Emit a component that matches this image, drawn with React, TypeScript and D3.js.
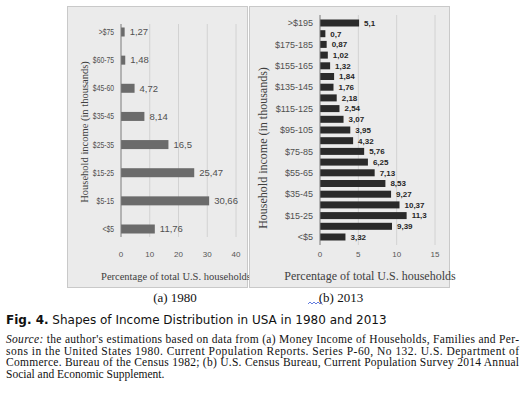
import * as d3 from "d3";

// ── Data ──────────────────────────────────────────────────────────────────────

const cats1980 = ["<$5", "$5-15", "$15-25", "$25-35", "$35-45", "$45-60", "$60-75", ">$75"];
const vals1980 = [11.76, 30.66, 25.47, 16.5, 8.14, 4.72, 1.48, 1.27];
const ticks1980 = [0, 10, 20, 30, 40];

const cats2013 = [
  "<$5", "$5-15", "$15-25", "$25-35", "$35-45", "$45-55", "$55-65", "$65-75",
  "$75-85", "$85-95", "$95-105", "$105-115", "$115-125", "$125-135", "$135-145",
  "$145-155", "$155-165", "$165-175", "$175-185", "$185-195", ">$195",
];
const vals2013 = [
  3.32, 9.39, 11.3, 10.37, 9.27, 8.53, 7.13, 6.25, 5.76, 4.32, 3.95, 3.07, 2.54,
  2.18, 1.76, 1.84, 1.32, 1.02, 0.87, 0.7, 5.1,
];
const ticks2013 = [0, 5, 10, 15];

const sourceLines = [
  "the author's estimations based on data from (a) Money Income of Households, Families and Per-",
  "sons in the United States 1980. Current Population Reports. Series P-60, No 132. U.S. Department of",
  "Commerce. Bureau of the Census 1982; (b) U.S. Census Bureau, Current Population Survey 2014 Annual",
  "Social and Economic Supplement.",
];

const W = 526;
const H = 393;
const SERIF = "'Liberation Serif', 'Times New Roman', serif";
const SANS = "'Liberation Sans', Arial, sans-serif";

interface PanelProps {
  box: { x: number; y: number; w: number; h: number };
  axisX: number;
  plotRight: number;
  plotTop: number;
  plotBottom: number;
  cats: string[];
  vals: number[];
  ticks: number[];
  barH: number;
  barColor: string;
  labelEvery: number;
  valueBold: boolean;
  valueSize: number;
  catSquash: number;
  catSize: number;
  titleSize: number;
  yTitleX: number;
  yTitleY: number;
  xTitleX: number;
  tickY: number;
  xTitleY: number;
}

function Panel(p: PanelProps) {
  const x = d3
    .scaleLinear()
    .domain([0, p.ticks[p.ticks.length - 1]])
    .range([p.axisX, p.plotRight]);
  const y = d3
    .scalePoint<string>()
    .domain(p.cats.slice().reverse())
    .range([p.plotTop, p.plotBottom]);
  const gridTop = p.plotTop - 8;
  const gridBottom = p.plotBottom + 8;

  return (
    <g>
      <rect x={p.box.x + 0.5} y={p.box.y + 0.5} width={p.box.w} height={p.box.h} fill="#ebebeb" stroke="#c9c9c9" />
      {p.ticks.slice(1).map((t) => (
        <line key={t} x1={x(t)} x2={x(t)} y1={gridTop} y2={gridBottom} stroke="#d2d2d2" strokeWidth={1} />
      ))}
      {p.cats.map((c, i) => {
        const cy = y(c)!;
        const v = p.vals[i];
        return (
          <g key={c}>
            <rect x={x(0)} y={cy - p.barH / 2} width={x(v) - x(0)} height={p.barH} fill={p.barColor} />
            <text
              x={x(v) + 5}
              y={cy + p.valueSize * 0.35}
              fontSize={p.valueSize}
              fontWeight={p.valueBold ? "bold" : "normal"}
              fill={p.valueBold ? "#262626" : "#505050"}
              fontFamily={SANS}
            >
              {v.toString().replace(".", ",")}
            </text>
            {i % p.labelEvery === 0 && (
              <text
                transform={`translate(${p.axisX - 7},${cy + p.catSize * 0.35}) scale(${p.catSquash},1)`}
                fontSize={p.catSize}
                textAnchor="end"
                fill="#505050"
                fontFamily={SANS}
              >
                {c}
              </text>
            )}
          </g>
        );
      })}
      <line x1={p.axisX} x2={p.axisX} y1={gridTop} y2={gridBottom} stroke="#7a7a7a" strokeWidth={1} />
      {p.ticks.map((t) => (
        <text key={t} x={x(t)} y={p.tickY} fontSize={8} textAnchor="middle" fill="#555" fontFamily={SANS}>
          {t}
        </text>
      ))}
      <text x={p.xTitleX} y={p.xTitleY} fontSize={p.titleSize} textAnchor="middle" fill="#404040" fontFamily={SERIF}>
        Percentage of total U.S. households
      </text>
      <text
        transform={`translate(${p.yTitleX},${p.yTitleY}) rotate(-90)`}
        fontSize={p.titleSize}
        textAnchor="middle"
        fill="#404040"
        fontFamily={SERIF}
      >
        Household income (in thousands)
      </text>
    </g>
  );
}

export default function App() {
  return (
    <svg
      width={W}
      height={H}
      style={{ position: "absolute", left: 0, top: 0, background: "#fff" }}
    >
      <Panel
        box={{ x: 67, y: 6, w: 180, h: 281 }}
        axisX={121}
        plotRight={236}
        plotTop={32}
        plotBottom={229}
        cats={cats1980}
        vals={vals1980}
        ticks={ticks1980}
        barH={9}
        barColor="#6b6b6b"
        labelEvery={1}
        valueBold={false}
        valueSize={9.5}
        catSquash={0.8}
        catSize={8.5}
        titleSize={10.5}
        yTitleX={88}
        yTitleY={132}
        xTitleX={176}
        tickY={257}
        xTitleY={280}
      />
      <Panel
        box={{ x: 249, y: 6, w: 200, h: 281 }}
        axisX={320}
        plotRight={435}
        plotTop={23}
        plotBottom={237}
        cats={cats2013}
        vals={vals2013}
        ticks={ticks2013}
        barH={7}
        barColor="#2a2a2a"
        labelEvery={2}
        valueBold={true}
        valueSize={8}
        catSquash={1}
        catSize={9}
        titleSize={12}
        yTitleX={267}
        yTitleY={148}
        xTitleX={370}
        tickY={257}
        xTitleY={280}
      />
      <text x={175} y={302} fontSize={13} textAnchor="middle" fill="#111" fontFamily={SERIF}>
        (a) 1980
      </text>
      <text x={341} y={302} fontSize={13} textAnchor="middle" fill="#111" fontFamily={SERIF}>
        (b) 2013
      </text>
      <path
        d={d3.range(0, 8).map((i) => `${i === 0 ? "M" : "L"}${308 + i * 2},${i % 2 ? 302 : 304}`).join("")}
        fill="none"
        stroke="#3b5bd6"
        strokeWidth={0.8}
      />
      <text x={6} y={324} fontSize={12} fill="#111" fontFamily="'DejaVu Sans', Verdana, sans-serif">
        <tspan fontWeight="bold">Fig. 4.</tspan> Shapes of Income Distribution in USA in 1980 and 2013
      </text>
      {sourceLines.map((line, i) => {
        const last = i === sourceLines.length - 1;
        const yy = 343 + i * 11.7;
        return (
          <text
            key={i}
            x={6}
            y={yy}
            fontSize={11.5}
            fill="#111"
            fontFamily={SERIF}
            textLength={last ? undefined : 513}
            lengthAdjust={last ? undefined : "spacing"}
          >
            {i === 0 ? (
              <>
                <tspan fontStyle="italic">Source:</tspan> {line}
              </>
            ) : (
              line
            )}
          </text>
        );
      })}
    </svg>
  );
}
